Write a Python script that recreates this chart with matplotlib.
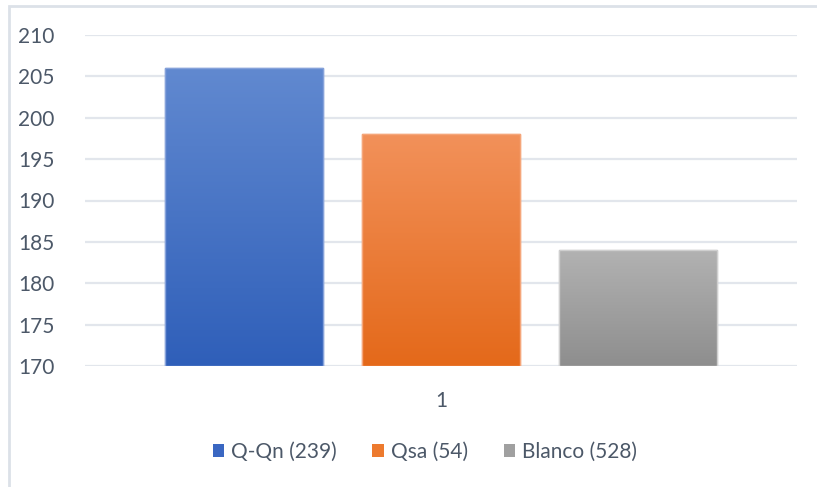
import numpy as np
import matplotlib
matplotlib.use("Agg")
import matplotlib.pyplot as plt
from matplotlib.patches import Patch, Rectangle
from matplotlib.colors import to_rgb

# Data
categories = ["1"]
series_names = ["Q-Qn (239)", "Qsa (54)", "Blanco (528)"]
series_values = [206, 198, 184]
y_ticks = [170, 175, 180, 185, 190, 195, 200, 205, 210]

# Styling: gradient top/bottom, legend swatch and outline colours
grad_top = ["#6189D0", "#F2915A", "#B2B2B2"]
grad_bottom = ["#2F5FB9", "#E4691A", "#8E8E8E"]
legend_colors = ["#3A67C2", "#ED7A2E", "#A0A0A0"]
edge_colors = ["#86A2DA", "#F5A67A", "#CFCFCF"]
text_color = "#4C5868"
grid_color = "#E2E6EC"

plt.rcParams["font.family"] = ["Lato", "DejaVu Sans"]

fig = plt.figure(figsize=(8.17, 4.87), dpi=100)
W, H = 817, 487
ax = fig.add_axes([85 / W, 1 - 366 / H, (797 - 85) / W, (366 - 35) / H])

bar_w = 0.222
step = 0.2767
ymin, ymax = 170, 210
x0 = np.arange(len(categories))
offsets = (np.arange(len(series_names)) - 1) * step

for i, (name, val) in enumerate(zip(series_names, series_values)):
    bars = ax.bar(x0 + offsets[i], val - ymin, bottom=ymin, width=bar_w,
                  color=legend_colors[i], edgecolor=edge_colors[i],
                  linewidth=1.0, zorder=2, label=name)
    for b in bars:
        bx, by = b.get_x(), b.get_y()
        bw, bh = b.get_width(), b.get_height()
        t = np.linspace(0, 1, 256)[:, None]
        top = np.array(to_rgb(grad_top[i]))
        bot = np.array(to_rgb(grad_bottom[i]))
        img = (top[None, :] * (1 - t) + bot[None, :] * t)[:, None, :]
        im = ax.imshow(img, extent=[bx, bx + bw, by, by + bh],
                       aspect="auto", origin="upper", zorder=2.5,
                       interpolation="bilinear")
        im.set_clip_path(b)
        edge = Rectangle((bx, by), bw, bh, fill=False,
                         edgecolor=edge_colors[i], linewidth=1.0, zorder=3)
        ax.add_patch(edge)

ax.set_xlim(-0.5, 0.5)
ax.set_ylim(ymin, ymax)
ax.set_yticks(y_ticks)
ax.set_xticks(x0)
ax.set_xticklabels(categories)
ax.yaxis.grid(True, color=grid_color, linewidth=1.6, zorder=0)
ax.set_axisbelow(True)
for s in ax.spines.values():
    s.set_visible(False)
ax.tick_params(axis="both", length=0, colors=text_color, labelsize=15)
ax.tick_params(axis="y", pad=22)
ax.tick_params(axis="x", pad=18)

handles = [Patch(facecolor=c, edgecolor="none") for c in legend_colors]
leg = fig.legend(handles, series_names, loc="center",
                 bbox_to_anchor=(425 / W, 1 - 452 / H), ncol=3,
                 frameon=False, fontsize=15, handlelength=0.55,
                 handleheight=0.55, handletextpad=0.35, columnspacing=1.7)
for t in leg.get_texts():
    t.set_color(text_color)

# Chart area border
fig.add_artist(Rectangle((9 / W, -0.1), 1.2, 1 - 6 / H + 0.1,
                         transform=fig.transFigure, fill=False,
                         edgecolor="#DCE1E8", linewidth=2.0))

fig.savefig("out.png", dpi=100)
